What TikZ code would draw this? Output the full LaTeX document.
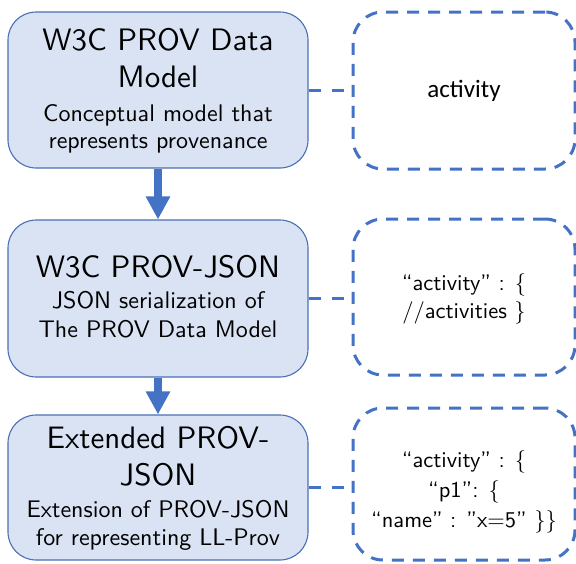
\documentclass[tikz,border=0pt]{standalone}
\usepackage{fontspec}
\newfontfamily\carlito{Carlito}
\newfontfamily\lmten[Extension=.otf,Ligatures=TeX]{lmsans10-regular}
\usetikzlibrary{arrows.meta}
\definecolor{pblue}{HTML}{4472C4}
\definecolor{pfill}{HTML}{DAE3F3}
\definecolor{pedge}{HTML}{4A6FB5}
\tikzset{
  lbox/.style={draw=pedge, fill=pfill, line width=1.1pt, rounded corners=28pt,
    minimum width=300pt, inner sep=0pt},
  rbox/.style={draw=pblue, line width=3pt, dash pattern=on 12pt off 9pt,
    rounded corners=30pt, minimum width=222pt, inner sep=0pt},
  ttl/.style={anchor=base, inner sep=0pt, font=\lmten\fontsize{31}{35}\selectfont},
  sub/.style={anchor=base, inner sep=0pt, font=\lmten\fontsize{24}{27}\selectfont},
  code/.style={anchor=base, inner sep=0pt, font=\lmten\fontsize{22.5}{27}\selectfont},
  flow/.style={draw=pblue, line width=8pt, -{Triangle[width=23pt,length=23pt]}},
  link/.style={draw=pblue, line width=3pt, dash pattern=on 12pt off 11pt}
}
\begin{document}
\begin{tikzpicture}[x=1pt,y=-1pt]
\useasboundingbox (0,0) rectangle (576,563);
% left boxes
\node[lbox, minimum height=156pt] (b1) at (158,90) {};
\node[lbox, minimum height=157pt] (b2) at (158,298.5) {};
\node[lbox, minimum height=145pt] (b3) at (158,487.5) {};
% right boxes
\node[rbox, minimum height=157pt] (r1) at (464,90.5) {};
\node[rbox, minimum height=156pt] (r2) at (464,297) {};
\node[rbox, minimum height=152pt] (r3) at (464,484) {};
% box 1 text
\node[ttl] (b1t1) at (158,50) {W3C PROV Data};
\node[ttl] (b1t2) at (158,87) {Model};
\node[sub] (b1s1) at (158,121) {Conceptual model that};
\node[sub] (b1s2) at (158,148) {represents provenance};
% box 2 text
\node[ttl] (b2t1) at (158,277) {W3C PROV-JSON};
\node[sub] (b2s1) at (158,308) {JSON serialization of};
\node[sub] (b2s2) at (158,337) {The PROV Data Model};
% box 3 text
\node[ttl] (b3t1) at (158,448) {Extended PROV-};
\node[ttl] (b3t2) at (158,485) {JSON};
\node[sub] (b3s1) at (158,517) {Extension of PROV-JSON};
\node[sub] (b3s2) at (158,545) {for representing LL-Prov};
% right texts
\node[anchor=base, inner sep=0pt, font=\carlito\fontsize{25}{29}\selectfont] (r1t) at (464,97) {activity};
\node[code] (r2t1) at (464,290) {``activity'' : \{};
\node[code] (r2t2) at (464,318) {//activities \}};
\node[code] (r3t1) at (464,467) {``activity'' : \{};
\node[code] (r3t2) at (464,497) {``p1'': \{};
\node[code] (r3t3) at (464,527) {``name'' : ''x=5'' \}\}};
% arrows
\draw[flow] (b1.south) -- (b2.north);
\draw[flow] (b2.south) -- (b3.north);
% dashed links
\draw[link] (b1.east) -- (r1.west|-b1.east);
\draw[link] (b2.east) -- (r2.west|-b2.east);
\draw[link] (b3.east) -- (r3.west|-b3.east);
\end{tikzpicture}
\end{document}
